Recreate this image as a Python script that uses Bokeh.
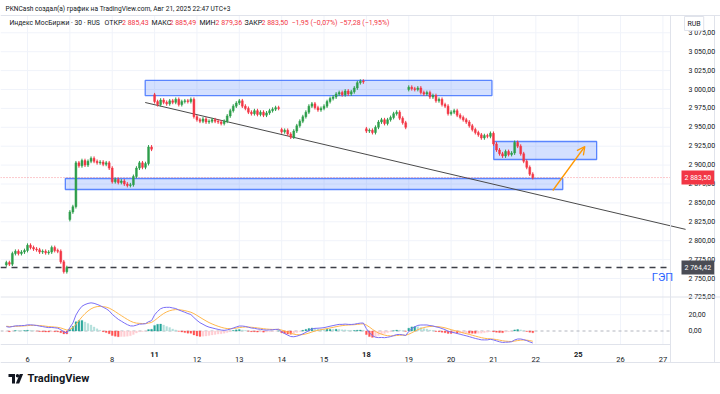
import numpy as np
from bokeh.plotting import figure
from bokeh.models import (Range1d, LinearAxis, FixedTicker, Span, Label, Arrow,
                          OpenHead, ColumnDataSource)
from bokeh.embed import file_html
from bokeh.resources import INLINE

# ---------------- data ----------------
day_labels = ["6", "7", "8", "11", "12", "13", "14", "15", "18", "19", "20", "21",
              "22", "25", "26", "27"]
bold_days = ["11", "18", "25"]
bars_per_day = 14
source_bars_per_day = 19   # 30-minute bars in one session of the original chart
lead_bars = 7  # bars of Aug 5 visible at the left edge

aug05 = [2771, 2769, 2783, 2786, 2783, 2785, 2787]
aug06 = [2794, 2791, 2789, 2788, 2785, 2786, 2784, 2785, 2791, 2787, 2786, 2772, 2759, 2764.42]
aug07 = [2838, 2845, 2903, 2899, 2906, 2900, 2905, 2909, 2905, 2903, 2904, 2901, 2903, 2896]
aug08 = [2878, 2881, 2877, 2879, 2875, 2873, 2874, 2885, 2896, 2903, 2897, 2902, 2924, 2921]
aug11 = [2984, 2980, 2986, 2983, 2981, 2985, 2983, 2987, 2980, 2984, 2985, 2984, 2987, 2964]
aug12 = [2960, 2958, 2961, 2957, 2958, 2960, 2958, 2957, 2955, 2958, 2965, 2972, 2978, 2982]
aug13 = [2985, 2978, 2975, 2970, 2968, 2972, 2967, 2970, 2966, 2969, 2972, 2974, 2976, 2975]
aug14 = [2944, 2946, 2941, 2937, 2945, 2952, 2958, 2964, 2970, 2978, 2981, 2976, 2973, 2975]
aug15 = [2978, 2984, 2988, 2990, 2994, 2996, 2993, 2998, 2994, 2997, 3002, 3009, 3011, 3010]
aug18 = [2945, 2946, 2943, 2950, 2957, 2960, 2955, 2960, 2963, 2968, 2970, 2962, 2956, 2950]
aug19 = [3003, 3001, 3000, 3002, 2996, 2994, 2996, 2990, 2992, 2985, 2987, 2980, 2978, 2968]
aug20 = [2970, 2972, 2966, 2963, 2960, 2957, 2952, 2947, 2943, 2940, 2936, 2939, 2938, 2942]
aug21 = [2928, 2920, 2915, 2912, 2918, 2914, 2916, 2930, 2925, 2915, 2905, 2897, 2888, 2883.5]
sessions = [aug05, aug06, aug07, aug08, aug11, aug12, aug13, aug14, aug15, aug18, aug19, aug20, aug21]
# first open of each session (None = opens at the previous close)
session_open = [2768, None, 2828, 2896, 2993, None, None, 2947, None, 2948, 3000, None, None]
wick = 2.5  # typical wick beyond the body, points

last_close = 2883.50
gap_level = 2764.42
price_ticks = [2725, 2750, 2775, 2800, 2825, 2850, 2875, 2900, 2925, 2950, 2975, 3000, 3025, 3050, 3075]
grid_prices = price_ticks[1:]
macd_ticks = [0, 20]
macd_start, signal_start = 6.0, 6.0

# drawings (bar index, price)
zones_left = [45.9, 19.5, 161.1]
zones_right = [160.5, 183.9, 195.1]
zones_bottom = [2992.0, 2867.7, 2907.4]
zones_top = [3012.0, 2882.3, 2931.2]
trend = dict(x0=45.9, y0=2982.8, x1=224.5, y1=2815.0)
arrow = dict(x0=180.6, y0=2866.4, x1=191.2, y1=2924.6)

# ---------------- build candles ----------------
closes, opens = [], []
prev = None
for s, o in zip(sessions, session_open):
    for j, c in enumerate(s):
        op = o if (j == 0 and o is not None) else prev
        opens.append(op)
        closes.append(c)
        prev = c
opens = np.array(opens, float)
closes = np.array(closes, float)
n = len(closes)
xs = np.arange(n, dtype=float)
highs = np.maximum(opens, closes) + wick
lows = np.minimum(opens, closes) - wick
UP, DOWN = "#2E9E4B", "#F23645"
colors = [UP if c >= o else DOWN for o, c in zip(opens, closes)]
top = np.maximum(opens, closes)
bot = np.minimum(opens, closes)
bot = np.where(top - bot < 0.6, top - 0.6, bot)
csrc = ColumnDataSource(dict(x=xs, high=highs, low=lows, top=top, bot=bot, color=colors))

# ---------------- MACD 12/26/9, periods expressed in these bars ----------------
def ema(vals, period, init):
    a = 2.0 / (period + 1.0)
    out, e = [], init
    for v in vals:
        e = e + a * (v - e)
        out.append(e)
    return np.array(out)

scale = bars_per_day / source_bars_per_day
ef = ema(closes, 12 * scale, closes[0])
es = ema(closes, 26 * scale, closes[0] - macd_start)
macd = ef - es
sig = ema(macd, 9 * scale, signal_start)
hist = macd - sig
hcol = []
for i, h in enumerate(hist):
    ph = hist[i - 1] if i > 0 else h
    if h >= 0:
        hcol.append("#26A69A" if h > ph else "#B2DFDB")
    else:
        hcol.append("#FF5252" if h < ph else "#FFCDD2")
msrc = ColumnDataSource(dict(x=xs, macd=macd, sig=sig, hist=hist, hcol=hcol))

# ---------------- page <-> data mapping ----------------
W, H = 720, 394
PX_BAR = 42.36 / bars_per_day
def bx(px):
    return lead_bars + (px - 27.0) / PX_BAR
def py(pyv):
    return 3000.0 - (pyv - 89.0) / 0.756
def my(pyv):
    return (330.5 - pyv) / 0.815

SCALE_X = bx(670)      # left edge of the price scale
PANE_TOP = py(15)
PANE_BOTTOM = py(344)  # bottom of the MACD pane / time axis line
AXIS_BOTTOM = py(362)

p = figure(width=W, height=H, output_backend="svg", toolbar_location=None,
           x_range=Range1d(bx(0), bx(W)), y_range=Range1d(py(H), py(0)),
           x_axis_location=None, y_axis_location=None,
           min_border_left=0, min_border_right=0, min_border_top=0, min_border_bottom=0)
p.extra_y_ranges = {"macd": Range1d(my(H), my(0))}
p.background_fill_color = "white"
p.border_fill_color = "white"
p.outline_line_color = None
p.grid.visible = False

FONT = "Roboto"
TXT = "#131722"
GRID = "#F0F3FA"
BORDER = "#E0E3EB"

day_ticks = [lead_bars + bars_per_day * k for k in range(len(day_labels))]
x_left = bx(0)

# grid lines (stop at the price scale / time axis)
p.segment(x0=day_ticks, y0=[PANE_BOTTOM] * len(day_ticks), x1=day_ticks,
          y1=[PANE_TOP] * len(day_ticks), line_color=GRID, line_width=1)
p.segment(x0=[x_left] * len(grid_prices), y0=grid_prices, x1=[SCALE_X] * len(grid_prices),
          y1=grid_prices, line_color=GRID, line_width=1)
p.segment(x0=[x_left], y0=[20], x1=[SCALE_X], y1=[20], y_range_name="macd",
          line_color=GRID, line_width=1)
p.segment(x0=[x_left], y0=[0], x1=[SCALE_X], y1=[0], y_range_name="macd",
          line_color="#B2B5BE", line_dash="3 3", line_width=1)

# frame borders
p.add_layout(Span(location=PANE_TOP, dimension="width", line_color=BORDER, line_width=1))
p.add_layout(Span(location=py(296.5), dimension="width", line_color=BORDER, line_width=1))
p.add_layout(Span(location=AXIS_BOTTOM, dimension="width", line_color=BORDER, line_width=1))
p.segment(x0=[bx(714)], y0=[AXIS_BOTTOM], x1=[bx(714)], y1=[PANE_TOP], line_color=BORDER)

# zones, trend line
p.quad(left=zones_left, right=zones_right, bottom=zones_bottom, top=zones_top,
       fill_color="#2962FF", fill_alpha=0.2, line_color="#2962FF", line_alpha=0.75, line_width=1.3)
p.segment(x0=[trend["x0"]], y0=[trend["y0"]], x1=[trend["x1"]], y1=[trend["y1"]],
          line_color="#4A4A4A", line_width=1)

# level lines
p.segment(x0=[x_left], y0=[gap_level], x1=[bx(668)], y1=[gap_level], line_color="#3D3F47",
          line_dash="6 5", line_width=1.5)
p.segment(x0=[x_left], y0=[last_close], x1=[SCALE_X], y1=[last_close], line_color="#F23645",
          line_alpha=0.55, line_dash="1 2", line_width=1)

# candles
p.segment(x0="x", y0="low", x1="x", y1="high", line_color="color", line_width=1, source=csrc)
p.vbar(x="x", width=0.62, top="top", bottom="bot", fill_color="color", line_color="color",
       line_width=0.5, source=csrc)

# MACD
p.vbar(x="x", width=0.6, top="hist", bottom=0, fill_color="hcol", line_color="hcol",
       line_width=0.3, y_range_name="macd", source=msrc)
p.line(x="x", y="sig", y_range_name="macd", line_color="#FFB74D", line_width=1, source=msrc)
p.line(x="x", y="macd", y_range_name="macd", line_color="#7B6FF6", line_width=1, source=msrc)

# orange arrow
p.add_layout(Arrow(x_start=arrow["x0"], y_start=arrow["y0"], x_end=arrow["x1"], y_end=arrow["y1"],
                   line_color="#FF9800", line_width=1.3,
                   end=OpenHead(size=8, line_color="#FF9800", line_width=1.3)))

# axes (drawn at fixed locations inside the plot)
def fmt(v):
    s = f"{v:,.2f}"
    return s.replace(",", " ").replace(".", ",")

macd_in_price = [py(330.5 - 0.815 * m) for m in macd_ticks]
overrides = {t: fmt(t) for t in price_ticks}
for mp, m in zip(macd_in_price, macd_ticks):
    overrides[mp] = fmt(m)
yax = LinearAxis(ticker=FixedTicker(ticks=price_ticks + macd_in_price),
                 major_label_overrides=overrides, fixed_location=SCALE_X,
                 bounds=(AXIS_BOTTOM, PANE_TOP), axis_line_color=BORDER,
                 major_tick_line_color=None, minor_tick_line_color=None,
                 major_label_standoff=12, major_label_text_font=FONT,
                 major_label_text_font_size="7px", major_label_text_color=TXT)
p.add_layout(yax, "right")

xover = {t: (lab if lab not in bold_days else "") for t, lab in zip(day_ticks, day_labels)}
xax = LinearAxis(ticker=FixedTicker(ticks=day_ticks), major_label_overrides=xover,
                 fixed_location=PANE_BOTTOM, bounds=(x_left, SCALE_X),
                 axis_line_color=BORDER, major_tick_line_color=None,
                 minor_tick_line_color=None, major_label_standoff=6,
                 major_label_text_font=FONT, major_label_text_font_size="7.5px",
                 major_label_text_color=TXT)
p.add_layout(xax, "below")
for t, lab in zip(day_ticks, day_labels):
    if lab in bold_days:
        p.add_layout(Label(x=t, y=py(354), text=lab, text_align="center", text_baseline="middle",
                           text_font=FONT, text_font_size="7.5px", text_font_style="bold",
                           text_color=TXT))

# price boxes on the scale
p.add_layout(Label(x=bx(681), y=last_close, text=fmt(last_close), text_baseline="middle",
                   text_font=FONT, text_font_size="7px", text_color="white",
                   background_fill_color="#F23645", padding=3))
p.add_layout(Label(x=bx(681), y=gap_level, text=fmt(gap_level), text_baseline="middle",
                   text_font=FONT, text_font_size="7px", text_color="white",
                   background_fill_color="#4A4C55", padding=3))
p.add_layout(Label(x=bx(662), y=py(277), text="ГЭП", text_align="center", text_baseline="middle",
                   text_font=FONT, text_font_size="11px", text_color="#2962FF"))
p.add_layout(Label(x=bx(684), y=py(23), text="RUB", text_baseline="middle",
                   text_font=FONT, text_font_size="7px", text_color=TXT,
                   background_fill_color="white", border_line_color=BORDER, padding=3))

# header
p.add_layout(Label(x=bx(5), y=py(8), text="PKNCash создал(а) график на TradingView.com, Авг 21, 2025 22:47 UTC+3",
                   text_baseline="middle", text_font=FONT, text_font_size="6.6px", text_color=TXT))
p.add_layout(Label(x=bx(9), y=py(22), text="Индекс МосБиржи · 30 · RUS", text_baseline="middle",
                   text_font=FONT, text_font_size="6.8px", text_color=TXT))
head = [(104, "ОТКР", TXT), (121.5, "2 885,43", DOWN),
        (151, "МАКС", TXT), (169, "2 885,49", DOWN), (199, "МИН", TXT), (215, "2 879,36", DOWN),
        (244, "ЗАКР", TXT), (261, "2 883,50", DOWN), (291, "−1,95 (−0,07%)", DOWN),
        (339, "−57,28 (−1,95%)", DOWN)]
for hx, ht, hc in head:
    p.add_layout(Label(x=bx(hx), y=py(22), text=ht, text_baseline="middle", text_font=FONT,
                       text_font_size="7px", text_color=hc))

# footer logo (drawn shapes) and wordmark
LOGO = "#131722"
p.quad(left=[bx(8), bx(11.5)], right=[bx(14.5), bx(14.5)],
       bottom=[py(376.5), py(383)], top=[py(373.5), py(373.5)],
       fill_color=LOGO, line_color=None)
p.scatter(x=[bx(17.0)], y=[py(375.3)], size=3.4, marker="circle", fill_color=LOGO, line_color=None)
p.patch(x=[bx(15.3), bx(18.7), bx(22.6), bx(19.2)], y=[py(383), py(383), py(373.5), py(373.5)],
        fill_color=LOGO, line_color=None)
p.add_layout(Label(x=bx(27), y=py(378), text="TradingView", text_baseline="middle", text_font=FONT,
                   text_font_size="11px", text_font_style="bold", text_color=LOGO))

open("out.html", "w").write(file_html(p, INLINE))
